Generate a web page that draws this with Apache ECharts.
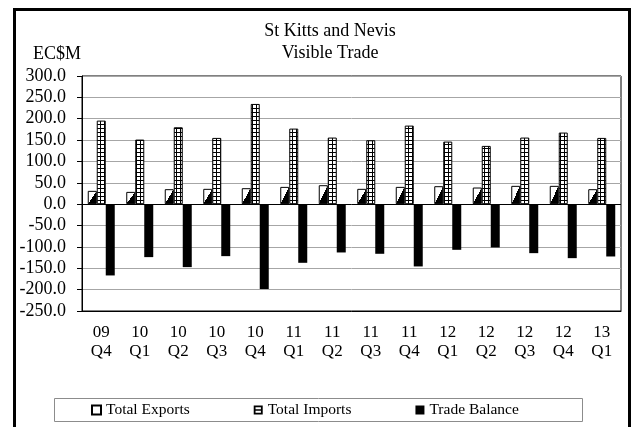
<!DOCTYPE html>
<html>
<head>
<meta charset="utf-8">
<script src="https://cdn.jsdelivr.net/npm/echarts@6/dist/echarts.min.js"></script>
<style>
  html, body { margin: 0; padding: 0; background: #fff; }
  #chart { width: 635px; height: 427px; }
</style>
</head>
<body>
<div id="chart"></div>
<script>
// Quarterly visible trade, EC$ millions
const quarters = ['09\nQ4', '10\nQ1', '10\nQ2', '10\nQ3', '10\nQ4', '11\nQ1', '11\nQ2',
                  '11\nQ3', '11\nQ4', '12\nQ1', '12\nQ2', '12\nQ3', '12\nQ4', '13\nQ1'];
const totalExports = [31.2, 28.8, 35.1, 35.9, 37.4, 40.5, 44.4, 35.9, 40.5, 42.1, 39.0, 42.9, 42.9, 35.1];
const totalImports = [195.6, 151.2, 180.0, 155.1, 234.6, 176.9, 155.9, 149.6, 183.9, 146.5, 136.4, 155.9, 167.6, 155.1];
const tradeBalance = [-166.8, -123.9, -147.3, -121.6, -198.8, -137.2, -113.0, -116.1, -145.7, -106.8, -101.3, -114.6, -126.3, -122.4];
const seriesNames = ['Total Exports', 'Total Imports', 'Trade Balance'];
const yMin = -250, yMax = 300, yStep = 50;

const FONT = 'Liberation Serif, Times New Roman, serif';
const BAR_W = 9;
const GRID = { left: 82, right: 14, top: 76, bottom: 116 };
const pxPerUnit = (427 - GRID.top - GRID.bottom) / (yMax - yMin);

// small grid tile for the imports fill
function gridTile() {
  const c = document.createElement('canvas');
  c.width = 4; c.height = 4;
  const g = c.getContext('2d');
  g.fillStyle = '#fff'; g.fillRect(0, 0, 4, 4);
  g.fillStyle = '#000'; g.fillRect(0, 0, 4, 1); g.fillRect(0, 0, 1, 4);
  return c;
}

// half-white / half-black fill split along the rising diagonal of each bar
function diagonalFill(v) {
  const w = BAR_W, h = Math.max(1, Math.abs(v) * pxPerUnit);
  const t = (w * h) / (w * w + h * h);
  return {
    type: 'linear', x: 0, y: 0, x2: h / w, y2: w / h,
    colorStops: [
      { offset: 0, color: '#fff' }, { offset: t, color: '#fff' },
      { offset: t, color: '#000' }, { offset: 1, color: '#000' }
    ]
  };
}

const chart = echarts.init(document.getElementById('chart'), null, { renderer: 'canvas' });

chart.setOption({
  animation: false,
  backgroundColor: '#fff',
  textStyle: { fontFamily: FONT, color: '#000' },
  title: {
    text: 'St Kitts and Nevis\nVisible Trade',
    left: 330, top: 20, textAlign: 'center', padding: 0,
    textStyle: { fontFamily: FONT, fontSize: 18, fontWeight: 'normal', color: '#000', lineHeight: 22 }
  },
  legend: {
    left: 91, top: 402, padding: 0,
    itemWidth: 9, itemHeight: 9, itemGap: 64,
    textStyle: { fontFamily: FONT, fontSize: 15.5, color: '#000' },
    data: [
      { name: seriesNames[0], icon: 'rect', itemStyle: { color: '#fff', borderColor: '#000', borderWidth: 2 } },
      { name: seriesNames[1], icon: 'path://M0,0H10V10H0Z M2,2V4.3H8V2Z M2,5.7V8H8V5.7Z', itemStyle: { color: '#000', borderWidth: 0 } },
      { name: seriesNames[2], icon: 'rect', itemStyle: { color: '#000', borderWidth: 0 } }
    ]
  },
  grid: { ...GRID, show: true, borderColor: '#000', borderWidth: 1, backgroundColor: 'transparent' },
  xAxis: {
    type: 'category',
    data: quarters,
    axisLine: { onZero: false, lineStyle: { color: '#000', width: 1 } },
    axisTick: { show: false },
    axisLabel: { fontFamily: FONT, fontSize: 17, color: '#000', lineHeight: 19, margin: 12 }
  },
  yAxis: {
    type: 'value',
    min: yMin, max: yMax, interval: yStep,
    axisLine: { show: true, lineStyle: { color: '#000', width: 1 } },
    axisTick: { show: true, length: 5, lineStyle: { color: '#000' } },
    axisLabel: { fontFamily: FONT, fontSize: 18, color: '#000', margin: 16, formatter: v => v.toFixed(1) },
    splitLine: { show: true, lineStyle: { color: '#a6a6a6', width: 1 } }
  },
  series: [
    {
      name: seriesNames[0], type: 'bar', barWidth: BAR_W, barGap: '0%',
      itemStyle: { color: '#fff', borderColor: '#000', borderWidth: 1 },
      data: totalExports.map(v => ({ value: v, itemStyle: { color: diagonalFill(v) } }))
    },
    {
      name: seriesNames[1], type: 'bar', barWidth: BAR_W, barGap: '0%',
      itemStyle: { color: { image: gridTile(), repeat: 'repeat' }, borderColor: '#000', borderWidth: 1 },
      data: totalImports
    },
    {
      name: seriesNames[2], type: 'bar', barWidth: BAR_W, barGap: '0%',
      itemStyle: { color: '#000' },
      data: tradeBalance,
      markLine: {
        silent: true, symbol: 'none', label: { show: false },
        lineStyle: { color: '#000', type: 'solid', width: 1 },
        data: [{ yAxis: 0 }]
      }
    }
  ],
  graphic: [
    { type: 'rect', silent: true, z: 100,
      shape: { x: 14.5, y: 9.5, width: 615, height: 430 },
      style: { fill: null, stroke: '#000', lineWidth: 3 } },
    { type: 'rect', silent: true, z: 0,
      shape: { x: 54.5, y: 398.5, width: 528, height: 23 },
      style: { fill: null, stroke: '#8c8c8c', lineWidth: 1 } },
    { type: 'text', silent: true, left: 33, top: 45,
      style: { text: 'EC$M', font: '18px ' + FONT, fill: '#000' } }
  ]
});
</script>
</body>
</html>
